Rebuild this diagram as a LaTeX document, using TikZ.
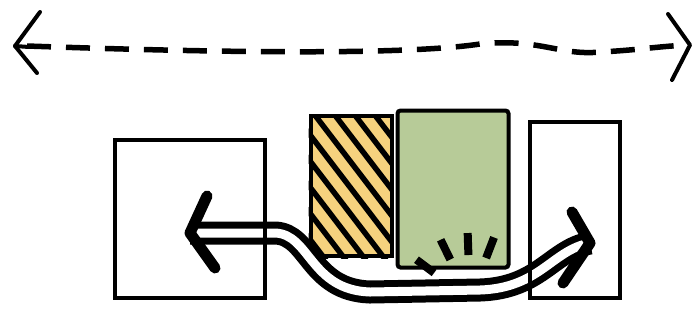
\documentclass[tikz,border=0pt]{standalone}
\usepackage{tikz}
\usetikzlibrary{positioning}

\definecolor{sandyellow}{HTML}{F6D27E}
\definecolor{sagegreen}{HTML}{B7CB98}

\begin{document}
\begin{tikzpicture}[x=1pt, y=-1pt,
    wall/.style={draw, line width=4pt, inner sep=0pt},
    head/.style={line width=11pt, line cap=round, line join=round},
    barb/.style={line width=4pt, line cap=round, line join=round}]
    \useasboundingbox (0,0) rectangle (700,333);

    \coordinate (spanL) at (15,46);
    \coordinate (spanR) at (690,45);
    \draw[line width=5.5pt, dash pattern=on 24pt off 15pt] (spanL) ++(12,0) .. controls (200,52) and (400,56) .. (480,44) .. controls (540,38) and (560,56) .. (600,52) .. controls (640,50) and (660,46) .. (spanR);
    \draw[barb] (spanL) ++(25,-34) -- (spanL) -- ++(22,27);
    \draw[barb] (spanL) -- ++(14,1);
    \draw[barb] (spanR) ++(-22,-31) -- (spanR) -- ++(-18,35);

    \node[wall, fill=sandyellow, minimum width=81pt, minimum height=140pt] (stack) at (351,186) {};
    \begin{scope}
        \clip (stack.north west) rectangle (stack.south east);
        \foreach \k in {-7,...,4}
            \draw[line width=5.5pt] (311+\k*20,110) -- ++(130,170);
    \end{scope}
    \node[wall, fill=sagegreen, rounded corners=3pt, minimum width=111pt, minimum height=157pt] (panel) at (453,189) {};
    \coordinate (glow) at (470,300);
    \foreach \a in {143,116,92,69}
        \draw[line width=8pt] (glow) ++(-\a:45) -- ++(-\a:22);

    \coordinate (tipL) at (190,233);
    \coordinate (tipR) at (590,243);
    \draw[line width=7pt, double=white, double distance=9pt] (tipL) -- (275,233) .. controls (310,234) and (310,290) .. (370,292) -- (480,290) .. controls (540,288) and (552,250) .. (tipR);
    \draw[head] (tipL) ++(17,-37) -- (tipL) -- ++(25,35);
    \draw[head] (tipR) ++(-18,-31) -- (tipR) -- ++(-27,40);

    \node[wall, minimum width=150pt, minimum height=158pt] (leftwall) at (190,219) {};
    \node[wall, minimum width=90pt, minimum height=176pt] (rightwall) at (575,210) {};
\end{tikzpicture}
\end{document}
